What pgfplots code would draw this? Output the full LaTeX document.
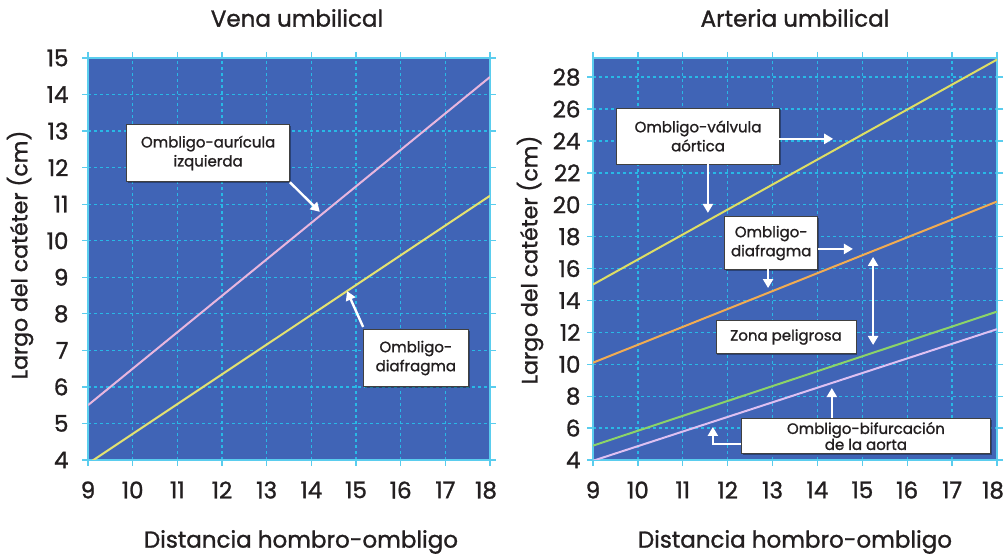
\documentclass[border=0pt]{standalone}
\usepackage{fontspec}
\setmainfont{Poppins}[FakeBold=1.2]
\usepackage{pgfplots}
\pgfplotsset{compat=1.18}
\usetikzlibrary{arrows.meta,shadows}

\definecolor{bgblue}{RGB}{64,100,182}
\definecolor{dashcyan}{RGB}{40,185,230}
\definecolor{framecyan}{RGB}{90,205,238}
\definecolor{textdark}{RGB}{35,31,32}
\definecolor{lpink}{RGB}{232,182,222}
\definecolor{lyellow}{RGB}{228,226,112}
\definecolor{ryellow}{RGB}{222,222,100}
\definecolor{rorange}{RGB}{242,172,82}
\definecolor{rgreen}{RGB}{140,212,104}
\definecolor{rlav}{RGB}{222,192,242}

\pgfplotsset{
  myaxis/.style={
    scale only axis, height=402pt,
    anchor=south west,
    xmin=9, xmax=18, xtick={9,10,...,18},
    xticklabels={9,10,11,12,13,14,15,16,17,{\raisebox{4pt}{\makebox[0pt]{\hspace{-8pt}18}}}},
    axis background/.style={fill=bgblue},
    grid=major,
    grid style={dashcyan, dash pattern=on 3pt off 3pt, line width=1.3pt},
    axis line style={framecyan, line width=1.5pt},
    tick style={framecyan, line width=1.3pt},
    tick align=outside, major tick length=6pt,
    tick label style={font=\fontsize{23}{23}\selectfont, text=textdark},
    /pgf/number format/assume math mode=true,
    xticklabel style={yshift=-12pt},
  },
}
\tikzset{
  box/.style={fill=white, draw=black!75, line width=0.8pt, align=center,
    font=\fontsize{15}{19}\selectfont, text=textdark, inner sep=0pt,
    drop shadow={shadow xshift=1.2pt, shadow yshift=-1.2pt, fill=black, opacity=0.35}},
  warrow/.style={white, line width=2.4pt, -{Triangle[length=9pt,width=10pt]}},
}

\begin{document}
\begin{tikzpicture}
\path[use as bounding box] (0,0) rectangle (1005pt,556pt);

% Left: Vena umbilical
\begin{axis}[myaxis, at={(88pt,96pt)}, width=402pt,
  ymin=4, ymax=15, ytick={4,5,...,15},
  yticklabel style={xshift=-10pt}]
\addplot[lpink, line width=2pt] coordinates {(9,5.5) (18,14.48)};
\addplot[lyellow, line width=2pt] coordinates {(9,3.9) (18,11.23)};
\node[box, minimum width=163pt, minimum height=57pt] at (axis cs:11.69,12.4) {Ombligo-aurícula\\izquierda};
\draw[warrow] (axis cs:13.52,11.6) -- (axis cs:14.19,10.79);
\node[box, minimum width=105pt, minimum height=57pt] at (axis cs:16.34,6.79) {Ombligo-\\diafragma};
\draw[warrow] (axis cs:15.16,7.64) -- (axis cs:14.8,8.62);
\end{axis}

% Right: Arteria umbilical
\begin{axis}[myaxis, at={(593pt,96pt)}, width=404pt,
  ymin=4, ymax=29.2, ytick={4,6,...,28},
  yticklabel style={xshift=-3pt}]
\addplot[ryellow, line width=2pt] coordinates {(9,15) (18,29.1)};
\addplot[rorange, line width=2pt] coordinates {(9,10.1) (18,20.2)};
\addplot[rgreen, line width=2pt] coordinates {(9,4.9) (18,13.3)};
\addplot[rlav, line width=2pt] coordinates {(9,3.95) (18,12.2)};
\node[box, minimum width=163pt, minimum height=56pt] at (axis cs:11.34,24.31) {Ombligo-válvula\\aórtica};
\draw[warrow] (axis cs:13.14,24.13) -- (axis cs:14.35,24.13);
\draw[warrow] (axis cs:11.56,22.56) -- (axis cs:11.56,19.49);
\node[box, minimum width=93pt, minimum height=53pt] at (axis cs:12.97,17.6) {Ombligo-\\diafragma};
\draw[warrow] (axis cs:14.01,17.23) -- (axis cs:14.79,17.23);
\draw[warrow] (axis cs:12.9,15.97) -- (axis cs:12.9,14.78);
\draw[white, line width=2.4pt, {Triangle[length=9pt,width=10pt]}-{Triangle[length=9pt,width=10pt]}] (axis cs:15.24,11.21) -- (axis cs:15.24,16.73);
\node[box, minimum width=140pt, minimum height=33pt] at (axis cs:13.3,11.71) {Zona peligrosa};
\node[box, minimum width=249pt, minimum height=35pt, font=\fontsize{15}{16}\selectfont] at (axis cs:15.08,5.5) {Ombligo-bifurcación\\de la aorta};
\draw[warrow] (axis cs:14.32,6.63) -- (axis cs:14.32,8.51);
\draw[warrow] (axis cs:12.30,5.0) -- (axis cs:11.67,5.0) -- (axis cs:11.67,6.07);
\end{axis}

% Titles and labels
\node[font=\fontsize{23}{23}\selectfont, text=textdark] at (297pt,538pt) {Vena umbilical};
\node[font=\fontsize{23}{23}\selectfont, text=textdark] at (795pt,538pt) {Arteria umbilical};
\node[font=\fontsize{23}{23}\selectfont, text=textdark] at (301pt,14pt) {Distancia hombro-ombligo};
\node[font=\fontsize{23}{23}\selectfont, text=textdark] at (795pt,14pt) {Distancia hombro-ombligo};
\node[font=\fontsize{22}{22}\selectfont, text=textdark, rotate=90] at (20pt,301pt) {Largo del catéter (cm)};
\node[font=\fontsize{22}{22}\selectfont, text=textdark, rotate=90] at (530pt,296pt) {Largo del catéter (cm)};
\end{tikzpicture}
\end{document}
